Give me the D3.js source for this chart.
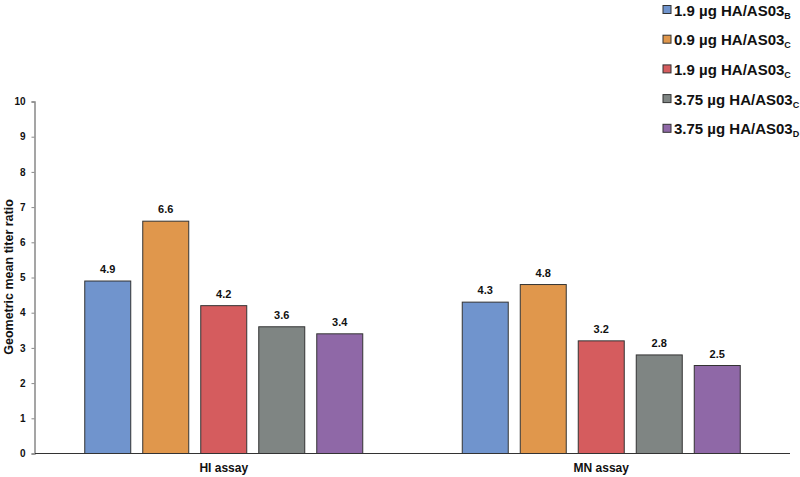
<!DOCTYPE html>
<html>
<head>
<meta charset="utf-8">
<script src="https://d3js.org/d3.v7.min.js"></script>
<style>
  body { margin: 0; background: #fff; }
  text { font-family: "Liberation Sans", Arial, sans-serif; font-weight: bold; fill: #111; }
</style>
</head>
<body>
<script>
// data
var assays = ["HI assay", "MN assay"];
var groups = ["1.9 µg HA/AS03|B", "0.9 µg HA/AS03|C", "1.9 µg HA/AS03|C", "3.75 µg HA/AS03|C", "3.75 µg HA/AS03|D"];
var colors = ["#7094cd", "#e0974c", "#d55c5e", "#7f8583", "#8f68a7"];
var hiValues = [4.9, 6.6, 4.2, 3.6, 3.4];
var mnValues = [4.3, 4.8, 3.2, 2.8, 2.5];
var yTicks = [0, 1, 2, 3, 4, 5, 6, 7, 8, 9, 10];

var w = 800, h = 477;
var svg = d3.select("body").append("svg").attr("width", w).attr("height", h);

var y = d3.scaleLinear().domain([0, 10]).range([453.5, 101.5]);
var x0 = d3.scaleBand().domain(assays).range([35, 790]);
// 5 bars, 46px wide, 58px step
var x1 = d3.scaleBand().domain(d3.range(groups.length)).range([0, 278]).paddingInner(0.207).paddingOuter(0);

var data = assays.map(function(a, i) {
  var vals = i === 0 ? hiValues : mnValues;
  return { assay: a, values: vals };
});

// bars
var g = svg.selectAll("g.grp").data(data).enter().append("g")
  .attr("transform", function(d) { return "translate(" + (x0(d.assay) + x0.bandwidth() / 2 - 139) + ",0)"; });

g.selectAll("rect").data(function(d) { return d.values; }).enter().append("rect")
  .attr("x", function(d, i) { return x1(i); })
  .attr("y", function(d) { return y(d); })
  .attr("width", x1.bandwidth())
  .attr("height", function(d) { return y(0) - y(d); })
  .attr("fill", function(d, i) { return colors[i]; })
  .attr("stroke", "#333")
  .attr("stroke-width", 1);

g.selectAll("text.val").data(function(d) { return d.values; }).enter().append("text")
  .attr("class", "val")
  .attr("x", function(d, i) { return x1(i) + x1.bandwidth() / 2; })
  .attr("y", function(d) { return y(d) - 8; })
  .attr("text-anchor", "middle")
  .attr("font-size", 11)
  .text(function(d) { return d.toFixed(1); });

// y axis
var yAxis = svg.append("g").attr("transform", "translate(34.5,0)")
  .call(d3.axisLeft(y).tickValues(yTicks).tickSize(3).tickPadding(6));
yAxis.select(".domain").attr("stroke", "#888").attr("stroke-width", 1.5);
yAxis.selectAll(".tick line").attr("stroke", "#888");
yAxis.selectAll(".tick text").attr("font-size", 10).attr("font-family", "Liberation Sans, Arial, sans-serif").attr("font-weight", "bold").attr("fill", "#111");

// x baseline
svg.append("line").attr("x1", 35).attr("x2", 790).attr("y1", y(0)).attr("y2", y(0))
  .attr("stroke", "#333").attr("stroke-width", 1.2);

svg.selectAll("text.cat").data(assays).enter().append("text")
  .attr("class", "cat")
  .attr("x", function(d) { return x0(d) + x0.bandwidth() / 2; })
  .attr("y", 472)
  .attr("text-anchor", "middle")
  .attr("font-size", 12)
  .text(function(d) { return d; });

svg.append("text")
  .attr("transform", "translate(13,277) rotate(-90)")
  .attr("text-anchor", "middle")
  .attr("font-size", 12.5)
  .text("Geometric mean titer ratio");

// legend
var leg = svg.selectAll("g.leg").data(groups).enter().append("g")
  .attr("transform", function(d, i) { return "translate(663," + (10 + i * 29.7) + ")"; });
leg.append("rect").attr("x", 0).attr("y", -4.5).attr("width", 8).attr("height", 8)
  .attr("fill", function(d, i) { return colors[i]; }).attr("stroke", "#333").attr("stroke-width", 1);
var lt = leg.append("text").attr("x", 11).attr("y", 5.5).attr("font-size", 15);
lt.append("tspan").text(function(d) { return d.split("|")[0]; });
lt.append("tspan").attr("font-size", 9).attr("dy", 3).text(function(d) { return d.split("|")[1]; });
</script>
</body>
</html>
